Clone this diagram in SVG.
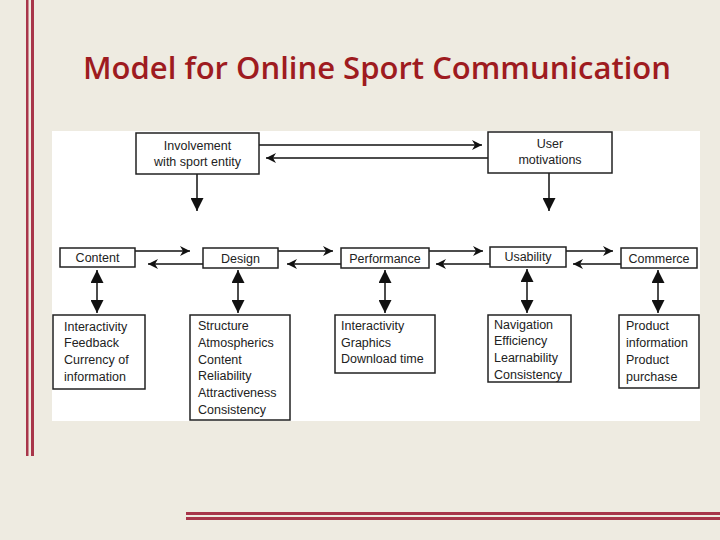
<svg xmlns="http://www.w3.org/2000/svg" width="720" height="540" viewBox="0 0 720 540">
<defs>
<marker id="ah" viewBox="0 0 10 10" refX="10" refY="5" markerWidth="10" markerHeight="10" markerUnits="userSpaceOnUse" orient="auto-start-reverse"><path d="M0,0 L10,5 L0,10 L3,5 z" fill="#111"/></marker>
<marker id="ab" viewBox="0 0 10 10" refX="10" refY="5" markerWidth="13" markerHeight="13" markerUnits="userSpaceOnUse" orient="auto-start-reverse"><path d="M0,0 L10,5 L0,10 z" fill="#111"/></marker>
</defs>
<style>
.b{fill:#fff;stroke:#222;stroke-width:1.5}
.t{font-family:"Liberation Sans",Arial,sans-serif;font-size:12.5px;fill:#222}
.c{stroke:#111;stroke-width:1.5;fill:none}
</style>
<rect width="720" height="540" fill="#EEEBE1"/>
<rect x="26" y="0" width="2.5" height="456" fill="#A8354A"/>
<rect x="31" y="0" width="3" height="456" fill="#A8354A"/>
<rect x="186" y="512" width="534" height="3" fill="#A8354A"/>
<rect x="186" y="517" width="534" height="3" fill="#A8354A"/>
<text x="377" y="79" text-anchor="middle" font-family="'Open Sans','Liberation Sans',sans-serif" font-weight="600" font-size="30" textLength="588" lengthAdjust="spacingAndGlyphs" fill="#9E1B20">Model for Online Sport Communication</text>
<rect x="52" y="131" width="648" height="290" fill="#fff"/>
<g id="connectors">
<line class="c" x1="259" y1="145" x2="482" y2="145" marker-end="url(#ah)"/>
<line class="c" x1="488" y1="158" x2="266" y2="158" marker-end="url(#ah)"/>
<line class="c" x1="197" y1="174" x2="197" y2="211" marker-end="url(#ab)"/>
<line class="c" x1="549" y1="173" x2="549" y2="211" marker-end="url(#ab)"/>
<line class="c" x1="135" y1="251" x2="190" y2="251" marker-end="url(#ah)"/>
<line class="c" x1="203" y1="264" x2="148" y2="264" marker-end="url(#ah)"/>
<line class="c" x1="278" y1="251" x2="333" y2="251" marker-end="url(#ah)"/>
<line class="c" x1="341" y1="264" x2="287" y2="264" marker-end="url(#ah)"/>
<line class="c" x1="429" y1="251" x2="483" y2="251" marker-end="url(#ah)"/>
<line class="c" x1="490" y1="264" x2="436" y2="264" marker-end="url(#ah)"/>
<line class="c" x1="566" y1="251" x2="613" y2="251" marker-end="url(#ah)"/>
<line class="c" x1="621" y1="264" x2="573" y2="264" marker-end="url(#ah)"/>
<line class="c" x1="97" y1="270" x2="97" y2="313" marker-start="url(#ab)" marker-end="url(#ab)"/>
<line class="c" x1="238" y1="270" x2="238" y2="313" marker-start="url(#ab)" marker-end="url(#ab)"/>
<line class="c" x1="385" y1="270" x2="385" y2="313" marker-start="url(#ab)" marker-end="url(#ab)"/>
<line class="c" x1="527" y1="269" x2="527" y2="313" marker-start="url(#ab)" marker-end="url(#ab)"/>
<line class="c" x1="658" y1="270" x2="658" y2="313" marker-start="url(#ab)" marker-end="url(#ab)"/>
</g>
<g id="involvement"><rect class="b" x="136" y="133" width="123" height="41"/><text class="t" x="197.5" y="150" text-anchor="middle">Involvement</text><text class="t" x="197.5" y="166" text-anchor="middle">with sport entity</text></g>
<g id="user"><rect class="b" x="488" y="132" width="124" height="41"/><text class="t" x="550" y="148" text-anchor="middle">User</text><text class="t" x="550" y="164" text-anchor="middle">motivations</text></g>
<g id="content"><rect class="b" x="60" y="248" width="75" height="19"/><text class="t" x="97.5" y="262" text-anchor="middle">Content</text></g>
<g id="design"><rect class="b" x="203" y="248" width="75" height="20"/><text class="t" x="240.5" y="263" text-anchor="middle">Design</text></g>
<g id="performance"><rect class="b" x="341" y="248" width="88" height="20"/><text class="t" x="385" y="263" text-anchor="middle">Performance</text></g>
<g id="usability"><rect class="b" x="490" y="247" width="76" height="20"/><text class="t" x="528" y="261" text-anchor="middle">Usability</text></g>
<g id="commerce"><rect class="b" x="621" y="248" width="76" height="20"/><text class="t" x="659" y="263" text-anchor="middle">Commerce</text></g>
<g id="content-d"><rect class="b" x="53" y="315" width="92" height="74"/><text class="t" x="64" y="331">Interactivity</text><text class="t" x="64" y="347">Feedback</text><text class="t" x="64" y="364">Currency of</text><text class="t" x="64" y="381">information</text></g>
<g id="design-d"><rect class="b" x="190" y="315" width="100" height="105"/><text class="t" x="198" y="330">Structure</text><text class="t" x="198" y="347">Atmospherics</text><text class="t" x="198" y="364">Content</text><text class="t" x="198" y="380">Reliability</text><text class="t" x="198" y="397">Attractiveness</text><text class="t" x="198" y="414">Consistency</text></g>
<g id="performance-d"><rect class="b" x="335" y="315" width="100" height="58"/><text class="t" x="341" y="330">Interactivity</text><text class="t" x="341" y="347">Graphics</text><text class="t" x="341" y="363">Download time</text></g>
<g id="usability-d"><rect class="b" x="488" y="315" width="83" height="67"/><text class="t" x="494" y="329">Navigation</text><text class="t" x="494" y="345">Efficiency</text><text class="t" x="494" y="362">Learnability</text><text class="t" x="494" y="379">Consistency</text></g>
<g id="commerce-d"><rect class="b" x="619" y="315" width="80" height="73"/><text class="t" x="626" y="330">Product</text><text class="t" x="626" y="347">information</text><text class="t" x="626" y="364">Product</text><text class="t" x="626" y="381">purchase</text></g>
</svg>
